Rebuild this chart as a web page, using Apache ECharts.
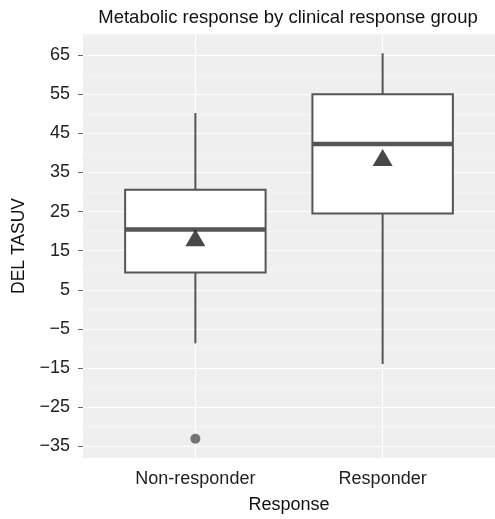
<!DOCTYPE html>
<html><head><meta charset="utf-8">
<script src="https://cdn.jsdelivr.net/npm/echarts@6/dist/echarts.min.js"></script>
<style>html,body{margin:0;padding:0;background:#fff}#chart{width:495px;height:519px}</style>
</head><body><div id="chart"></div>
<script>
const categories = ['Non-responder', 'Responder'];
const whiskerLow = [-8.7, -14.0];
const q1Values = [9.4, 24.5];
const medianValues = [20.4, 42.3];
const q3Values = [30.6, 55.0];
const whiskerHigh = [50.2, 65.5];
const meanValues = [17.6, 38.1];
const outlierGroup = [0];
const outlierValues = [-33.1];
const yTickValues = [-35, -25, -15, -5, 5, 15, 25, 35, 45, 55, 65];
const yMinorValues = [-30, -20, -10, 0, 10, 20, 30, 40, 50, 60, 70];

const FONT = '"Liberation Sans", Arial, Helvetica, sans-serif';
const boxData = categories.map((c, i) => [i + 1, whiskerLow[i], q1Values[i], medianValues[i], q3Values[i], whiskerHigh[i]]);
const meanData = categories.map((c, i) => [i + 1, meanValues[i]]);
const outlierData = outlierGroup.map((g, k) => [g + 1, outlierValues[k]]);
const allVals = whiskerLow.concat(whiskerHigh, outlierValues, meanValues);
const lo = Math.min.apply(null, allVals), hi = Math.max.apply(null, allVals);
const pad = (hi - lo) * 0.05;
const yMin = lo - pad, yMax = hi + pad;
const xMin = 1 - 0.6, xMax = categories.length + 0.6;
const BOX_HALF = 0.375;
const LINE = '#555555';

const fmtNum = v => (v < 0 ? '\u2212' + Math.abs(v) : String(v));

const chart = echarts.init(document.getElementById('chart'), null, {renderer: 'canvas'});
chart.setOption({
  animation: false,
  backgroundColor: '#ffffff',
  title: {
    text: 'Metabolic response by clinical response group',
    left: 288, top: 8, textAlign: 'center', padding: 0,
    textStyle: {fontFamily: FONT, fontSize: 18.5, fontWeight: 'normal', color: '#111'}
  },
  grid: {
    left: 83, right: -3, top: 34, bottom: 60,
    show: true, backgroundColor: '#EFEFEF', borderWidth: 0, containLabel: false
  },
  xAxis: {
    type: 'value', min: xMin, max: xMax,
    name: 'Response', nameLocation: 'middle', nameGap: 38,
    nameTextStyle: {fontFamily: FONT, fontSize: 18, color: '#111'},
    axisLine: {show: false},
    axisTick: {show: true, length: 5, lineStyle: {color: '#666', width: 1}, customValues: categories.map((c, i) => i + 1)},
    axisLabel: {
      show: true, margin: 12, fontFamily: FONT, fontSize: 18, color: '#222',
      customValues: categories.map((c, i) => i + 1),
      formatter: v => categories[Math.round(v) - 1] || ''
    },
    splitLine: {show: true, lineStyle: {color: '#ffffff', width: 1.2}}
  },
  yAxis: [{
    type: 'value', min: yMin, max: yMax,
    name: 'DEL TASUV', nameLocation: 'middle', nameGap: 55, nameRotate: 90,
    nameTextStyle: {fontFamily: FONT, fontSize: 17.5, color: '#111'},
    axisLine: {show: false},
    axisTick: {show: true, length: 5, lineStyle: {color: '#666', width: 1}, customValues: yTickValues},
    axisLabel: {
      show: true, margin: 13, fontFamily: FONT, fontSize: 18, color: '#222',
      customValues: yTickValues, formatter: v => fmtNum(v)
    },
    splitLine: {show: true, lineStyle: {color: '#ffffff', width: 1.2}}
  }, {
    type: 'value', min: yMin, max: yMax, position: 'right',
    axisLine: {show: false},
    axisTick: {show: false, customValues: yMinorValues},
    axisLabel: {show: false, customValues: yMinorValues},
    splitLine: {show: true, lineStyle: {color: '#f7f7f7', width: 0.7}}
  }],
  series: [{
    type: 'custom',
    xAxisIndex: 0, yAxisIndex: 0,
    data: boxData,
    encode: {x: 0, y: [1, 2, 3, 4, 5]},
    z: 3,
    renderItem: function (params, api) {
      const x = api.value(0);
      const pL = api.coord([x - BOX_HALF, api.value(4)]);
      const pR = api.coord([x + BOX_HALF, api.value(2)]);
      const top = api.coord([x, api.value(5)]);
      const bot = api.coord([x, api.value(1)]);
      const q3p = api.coord([x, api.value(4)]);
      const q1p = api.coord([x, api.value(2)]);
      const mL = api.coord([x - BOX_HALF, api.value(3)]);
      const mR = api.coord([x + BOX_HALF, api.value(3)]);
      return {
        type: 'group',
        children: [
          {type: 'line', shape: {x1: top[0], y1: top[1], x2: q3p[0], y2: q3p[1]}, style: {stroke: LINE, lineWidth: 2}},
          {type: 'line', shape: {x1: bot[0], y1: bot[1], x2: q1p[0], y2: q1p[1]}, style: {stroke: LINE, lineWidth: 2}},
          {type: 'rect', shape: {x: pL[0], y: pL[1], width: pR[0] - pL[0], height: pR[1] - pL[1]}, style: {fill: '#ffffff', stroke: LINE, lineWidth: 2}},
          {type: 'line', shape: {x1: mL[0], y1: mL[1], x2: mR[0], y2: mR[1]}, style: {stroke: LINE, lineWidth: 4.5}}
        ]
      };
    }
  }, {
    type: 'scatter',
    data: outlierData,
    symbol: 'circle', symbolSize: 10,
    itemStyle: {color: LINE},
    z: 4
  }, {
    type: 'scatter',
    data: meanData,
    symbol: 'triangle', symbolSize: [20, 17], symbolOffset: [0, -2.8],
    itemStyle: {color: '#1a1a1a'},
    z: 5
  }]
});
</script></body></html>
